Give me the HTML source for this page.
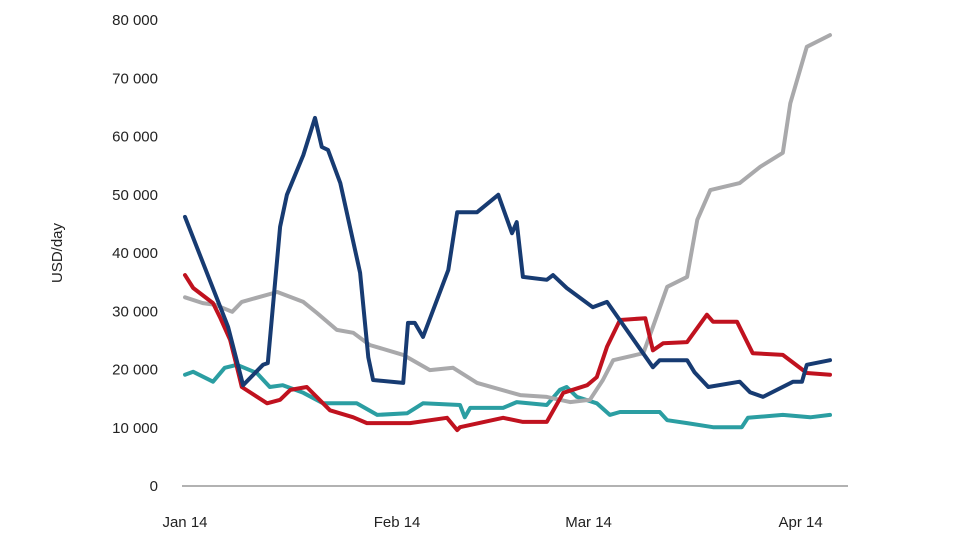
<!DOCTYPE html>
<html><head><meta charset="utf-8"><style>
html,body{margin:0;padding:0;background:#fff;}
svg text{font-family:"Liberation Sans",sans-serif;fill:#222;}
</style></head><body>
<svg id="chart" width="960" height="540">
<line x1="182" y1="486" x2="848" y2="486" stroke="#999" stroke-width="1.5"/>
<text x="62" y="253" transform="rotate(-90 62 253)" text-anchor="middle" font-size="15">USD/day</text>
<g id="yt"></g><g id="xt"></g><g id="series"></g>
</svg>
<script>
const yTicks=[0,10000,20000,30000,40000,50000,60000,70000,80000];
const yTickLabels=["0","10 000","20 000","30 000","40 000","50 000","60 000","70 000","80 000"];
const xTicks=[0,31,59,90];
const xTickLabels=["Jan 14","Feb 14","Mar 14","Apr 14"];
const navyDays=[0,6.3,8.5,11.4,12.1,13.9,14.9,17.3,19,20,20.9,22.7,25.6,26.8,27.5,31.9,32.6,33.6,34.8,38.5,39.8,42.7,45.8,47.8,48.5,49.4,52.9,53.8,55.8,59.6,61.7,68.4,69.4,73.4,74.5,76.5,81.1,82.6,84.5,88.9,90.2,90.9,94.3];
const navyVals=[46.2,27.3,17.3,20.8,21.1,44.5,50,56.8,63.2,58.2,57.7,52,36.6,22.1,18.2,17.7,28,28,25.6,37.1,47,47,50,43.4,45.3,35.9,35.4,36.2,34,30.7,31.6,20.4,21.6,21.6,19.5,17,17.9,16.1,15.3,17.9,17.9,20.8,21.6];
const grayDays=[0,2.6,4.4,6.9,8.3,13.5,17.3,19.3,22.2,24.6,27,31.9,35.8,39.2,42.7,49,52.9,56.3,59.2,61.1,62.6,67,68.4,70.5,73.4,74.9,76.8,81.1,84.1,87.4,88.5,90.9,94.3];
const grayVals=[32.4,31.4,31.1,29.9,31.6,33.3,31.6,29.7,26.8,26.3,24.2,22.5,19.9,20.3,17.7,15.6,15.3,14.4,14.8,18.2,21.6,22.8,27.3,34.2,35.9,45.7,50.8,52,54.8,57.2,65.7,75.4,77.4];
const redDays=[0,1.2,4.1,5.1,6.6,7.6,8.3,12,13.9,15.4,17.8,21.2,24.6,26.6,32.9,38.3,39.8,40.2,46.5,49.4,52.9,55.3,58.8,60.2,61.7,63.6,67.3,68.4,69.9,73.4,76.3,77.2,80.7,83,87.4,90.9,94.3];
const redVals=[36.2,34,31.4,29,25.1,20.4,17,14.2,14.8,16.5,17,13,11.8,10.8,10.8,11.7,9.6,10.1,11.7,11,11,16,17.3,18.7,23.9,28.5,28.8,23.3,24.5,24.7,29.4,28.2,28.2,22.8,22.5,19.4,19.1];
const tealDays=[0,1.2,4.1,5.8,7.6,10.5,12.4,14.3,17.3,20.2,25.1,28.1,32.5,34.8,40.2,40.9,41.7,46.5,48.5,52.9,54.8,55.8,57.3,60.2,62.1,63.6,69.4,70.5,73.4,77.2,81.4,82.3,87.4,91.4,94.3];
const tealVals=[19.1,19.6,17.9,20.3,20.8,19.4,17,17.3,16,14.2,14.2,12.2,12.5,14.2,13.9,11.8,13.4,13.4,14.4,13.9,16.5,17,15.3,14.2,12.2,12.7,12.7,11.3,10.8,10.1,10.1,11.7,12.2,11.8,12.2];
const NS="http://www.w3.org/2000/svg";
function xs(d){return 185+d*6.84;}
function ys(v){return 486-v/10000*58.25;}
const yt=document.getElementById('yt');
yTicks.forEach((t,i)=>{const e=document.createElementNS(NS,'text');
e.setAttribute('x',158);e.setAttribute('y',ys(t)+5);e.setAttribute('text-anchor','end');e.setAttribute('font-size','15');


e.textContent=yTickLabels[i];yt.appendChild(e);});
const xt=document.getElementById('xt');
xTicks.forEach((t,i)=>{const e=document.createElementNS(NS,'text');
e.setAttribute('x',xs(t));e.setAttribute('y',527);e.setAttribute('text-anchor','middle');e.setAttribute('font-size','15');


e.textContent=xTickLabels[i];xt.appendChild(e);});
const sg=document.getElementById('series');
function line(days,vals,color,name){const p=document.createElementNS(NS,'polyline');
p.setAttribute('points',days.map((d,i)=>xs(d).toFixed(1)+','+ys(vals[i]*1000).toFixed(1)).join(' '));
p.setAttribute('fill','none');p.setAttribute('stroke',color);p.setAttribute('stroke-width','4');p.setAttribute('stroke-linejoin','round');p.setAttribute('stroke-linecap','round');


sg.appendChild(p);}
line(tealDays,tealVals,'#2b9ea2','series-teal-line');
line(grayDays,grayVals,'#a9a9ab','series-gray-line');
line(redDays,redVals,'#c0121f','series-red-line');
line(navyDays,navyVals,'#173b72','series-navy-line');
</script>
</body></html>
